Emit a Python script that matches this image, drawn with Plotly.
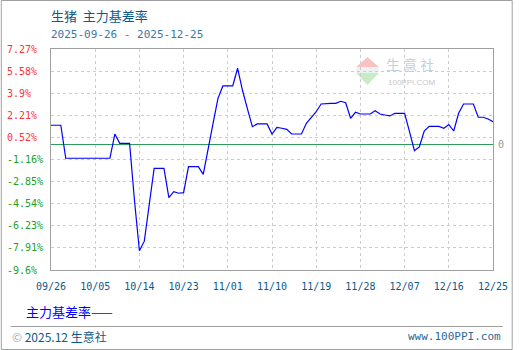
import plotly.graph_objects as go
import pandas as pd

# ---------------- data ----------------
start_date = "2025-09-26"
end_date = "2025-12-25"
basis_rate = [
    1.45, 1.45, 1.45, -1.07, -1.07, -1.07, -1.07, -1.07, -1.07, -1.07,
    -1.07, -1.07, -1.07, 0.78, 0.07, 0.07, 0.07, -4.3, -8.13, -7.4,
    -4.6, -1.84, -1.84, -1.84, -4.08, -3.62, -3.74, -3.70, -1.71, -1.71,
    -1.71, -2.3, -0.25, 1.6, 3.5, 4.45, 4.45, 4.45, 5.80, 4.1,
    2.7, 1.34, 1.55, 1.55, 1.55, 0.78, 1.29, 1.22, 1.14, 0.78,
    0.78, 0.78, 1.60, 2.06, 2.48, 3.07, 3.12, 3.12, 3.12, 3.28,
    3.17, 1.98, 2.44, 2.31, 2.31, 2.31, 2.56, 2.31, 2.23, 2.16,
    2.36, 2.36, 2.36, 0.96, -0.49, -0.2, 1.0, 1.36, 1.36, 1.36,
    1.22, 1.50, 1.01, 2.36, 3.07, 3.07, 3.07, 2.06, 2.06, 1.93,
    1.72,
]
dates = pd.date_range(start_date, end_date, freq="D")

x_tick_dates = ["2025-09-26", "2025-10-05", "2025-10-14", "2025-10-23", "2025-11-01",
                "2025-11-10", "2025-11-19", "2025-11-28", "2025-12-07", "2025-12-16",
                "2025-12-25"]
x_tick_labels = ["09/26", "10/05", "10/14", "10/23", "11/01", "11/10",
                 "11/19", "11/28", "12/07", "12/16", "12/25"]
y_tick_vals = [7.27, 5.58, 3.9, 2.21, 0.52, -1.16, -2.85, -4.54, -6.23, -7.91, -9.6]
y_tick_labels = ["7.27%", "5.58%", "3.9%", "2.21%", "0.52%", "-1.16%", "-2.85%",
                 "-4.54%", "-6.23%", "-7.91%", "-9.6%"]

title_text = "生猪\u00a0\u00a0主力基差率"
subtitle_text = "2025-09-26 - 2025-12-25"
series_name = "主力基差率"
footer_left = "2025.12 生意社"
footer_right = "www.100PPI.com"

# ---------------- layout geometry ----------------
W, H = 520, 350
L, R, T, B = 51, 500, 49, 270
PW, PH = R - L, B - T


def px(x):
    return (x - L) / PW


def py(y):
    return (B - y) / PH


mono = "DejaVu Sans Mono"
cjk = "Noto Sans CJK SC"

fig = go.Figure()
fig.add_trace(go.Scatter(
    x=dates, y=basis_rate, mode="lines", name=series_name,
    line=dict(color="#0000ff", width=1.2), hoverinfo="x+y",
))

annotations = []
# y labels (left aligned, coloured)
for v, t in zip(y_tick_vals, y_tick_labels):
    annotations.append(dict(
        x=px(4), y=v, xref="paper", yref="y", text=t, showarrow=False,
        xanchor="left", yanchor="middle",
        font=dict(family=mono, size=10, color="#ff3333" if v > 0 else "#22a022"),
    ))
# zero label on right
annotations.append(dict(x=px(503), y=0, xref="paper", yref="y", text="0",
                        showarrow=False, xanchor="left", yanchor="middle",
                        font=dict(family=mono, size=10, color="#999999")))
# title & subtitle
annotations.append(dict(x=px(49), y=py(15), xref="paper", yref="paper", text=title_text,
                        showarrow=False, xanchor="left", yanchor="middle",
                        font=dict(family=cjk, size=13, color="#0b5a8e")))
annotations.append(dict(x=px(49), y=py(34), xref="paper", yref="paper", text=subtitle_text,
                        showarrow=False, xanchor="left", yanchor="middle",
                        font=dict(family=mono, size=11, color="#3d76a3")))
# legend text
annotations.append(dict(x=px(24), y=py(311), xref="paper", yref="paper",
                        text=series_name + "——", showarrow=False,
                        xanchor="left", yanchor="middle",
                        font=dict(family=cjk, size=13, color="#0000ff")))
# footer
annotations.append(dict(x=px(9), y=py(336), xref="paper", yref="paper",
                        text="<span style='color:#9aaabb'>©</span> " + footer_left,
                        showarrow=False, xanchor="left", yanchor="middle",
                        font=dict(family=cjk, size=12, color="#0b5a8e")))
annotations.append(dict(x=px(510), y=py(336), xref="paper", yref="paper",
                        text=footer_right, showarrow=False, xanchor="right", yanchor="middle",
                        font=dict(family=mono, size=11, color="#2a6a9a")))
# watermark
annotations.append(dict(x=px(389), y=py(64), xref="paper", yref="paper", text="生 意 社",
                        showarrow=False, xanchor="left", yanchor="middle",
                        font=dict(family=cjk, size=14, color="#c4d0dc")))
annotations.append(dict(x=px(391), y=py(82), xref="paper", yref="paper", text="100PPI.COM",
                        showarrow=False, xanchor="left", yanchor="middle",
                        font=dict(family="Liberation Sans", size=8, color="#c8c8c8")))

shapes = [
    # outer frame
    dict(type="rect", xref="paper", yref="paper", x0=px(0.5), x1=px(519.5),
         y0=py(0.5), y1=py(349.5), line=dict(color="#a0a0a0", width=1)),
    # separator
    dict(type="line", xref="paper", yref="paper", x0=px(10), x1=px(510),
         y0=py(326.5), y1=py(326.5), line=dict(color="#a0a0a0", width=1)),
    # watermark logo
    dict(type="path", xref="paper", yref="paper",
         path=f"M {px(361)},{py(67)} L {px(372.5)},{py(57)} L {px(384)},{py(67)} Z",
         fillcolor="#f6c2c2", line=dict(width=0), layer="below"),
    dict(type="rect", xref="paper", yref="paper", x0=px(361), x1=px(384),
         y0=py(67), y1=py(73), fillcolor="#eef2f2", line=dict(width=0), layer="below"),
    dict(type="path", xref="paper", yref="paper",
         path=f"M {px(361)},{py(73)} L {px(384)},{py(73)} L {px(372.5)},{py(85)} Z",
         fillcolor="#c6ecc6", line=dict(width=0), layer="below"),
]

fig.update_layout(
    width=W, height=H,
    margin=dict(l=L, r=W - R, t=T, b=H - B, pad=0),
    paper_bgcolor="white", plot_bgcolor="white",
    showlegend=False,
    annotations=annotations,
    shapes=shapes,
    xaxis=dict(
        type="date", range=[start_date, end_date],
        tickmode="array", tickvals=x_tick_dates, ticktext=x_tick_labels,
        tickfont=dict(family=mono, size=10, color="#0b5a8e"),
        showgrid=True, gridcolor="#cccccc", griddash="3px,3px", gridwidth=1,
        showline=True, linecolor="#a0a0a0", linewidth=1, mirror=True,
        ticks="", zeroline=False, ticklabelstandoff=7,
    ),
    yaxis=dict(
        range=[y_tick_vals[-1], y_tick_vals[0]],
        tickmode="array", tickvals=y_tick_vals, showticklabels=False,
        showgrid=True, gridcolor="#cccccc", griddash="3px,3px", gridwidth=1,
        showline=True, linecolor="#a0a0a0", linewidth=1, mirror=True,
        ticks="", zeroline=True, zerolinecolor="#2e9a5e", zerolinewidth=1.3,
    ),
)

fig.write_html("out.html")
